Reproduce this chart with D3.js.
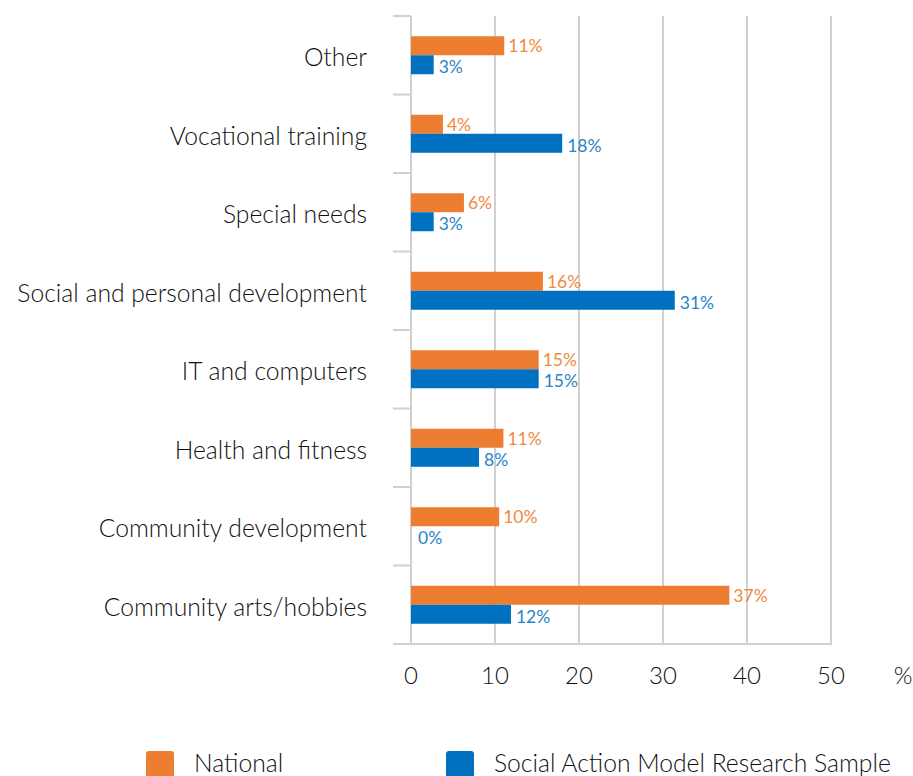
<!DOCTYPE html>
<html lang="en">
<head>
  <meta charset="UTF-8" />
  <title>Learning categories</title>
  <style>
    body { margin: 0; background: #fff; }
    text { font-family: "Lato", "Open Sans", sans-serif; font-weight: 300; }
    text.val { font-weight: 400; }
  </style>
  <script src="https://d3js.org/d3.v7.min.js"></script>
</head>
<body>
  <script>
    const categories = ["Other", "Vocational training", "Special needs", "Social and personal development",
      "IT and computers", "Health and fitness", "Community development", "Community arts/hobbies"];
    const national = [11.1, 3.8, 6.3, 15.7, 15.2, 11, 10.5, 37.9];
    const sample = [2.7, 18, 2.7, 31.4, 15.2, 8.1, 0, 11.9];
    const nationalLabels = ["11%", "4%", "6%", "16%", "15%", "11%", "10%", "37%"];
    const sampleLabels = ["3%", "18%", "3%", "31%", "15%", "8%", "0%", "12%"];
    const xTicks = [0, 10, 20, 30, 40, 50];
    const seriesNames = ["National", "Social Action Model Research Sample"];

    const width = 913, height = 776;
    const plotLeft = 411, plotRight = 831, plotTop = 16, plotBottom = 644;
    const orange = "#ED7D31", blue = "#0070C0";
    const ink = "#111";

    const svg = d3.select("body").append("svg")
      .attr("width", width)
      .attr("height", height);

    const x = d3.scaleLinear().domain([0, 50]).range([plotLeft, plotRight]);
    const y = d3.scaleBand().domain(categories).range([plotTop, plotBottom]);
    const barH = 19;

    // vertical gridlines
    svg.selectAll(".grid")
      .data(xTicks.slice(1))
      .enter().append("line")
      .attr("x1", d => x(d)).attr("x2", d => x(d))
      .attr("y1", plotTop).attr("y2", plotBottom)
      .attr("stroke", "#d0d0d0").attr("stroke-width", 2);

    // category axis with ticks at band boundaries
    const bounds = categories.map(c => y(c)).concat([plotBottom]);
    svg.selectAll(".ytick")
      .data(bounds)
      .enter().append("line")
      .attr("x1", plotLeft - 18).attr("x2", plotLeft)
      .attr("y1", d => d).attr("y2", d => d)
      .attr("stroke", "#d0d0d0").attr("stroke-width", 2);
    svg.append("line")
      .attr("x1", plotLeft).attr("x2", plotLeft)
      .attr("y1", plotTop).attr("y2", plotBottom)
      .attr("stroke", "#d0d0d0").attr("stroke-width", 2);
    svg.append("line")
      .attr("x1", plotLeft).attr("x2", plotRight + 1)
      .attr("y1", plotBottom).attr("y2", plotBottom)
      .attr("stroke", "#d0d0d0").attr("stroke-width", 2);

    // category labels
    svg.selectAll(".cat")
      .data(categories)
      .enter().append("text")
      .attr("x", 367)
      .attr("y", d => y(d) + y.bandwidth() / 2 + 11)
      .attr("text-anchor", "end")
      .attr("font-size", 24.7)
      .attr("fill", ink)
      .text(d => d);

    // x tick labels
    svg.selectAll(".xt")
      .data(xTicks)
      .enter().append("text")
      .attr("x", d => x(d))
      .attr("y", 684)
      .attr("text-anchor", "middle")
      .attr("font-size", 24)
      .attr("fill", ink)
      .text(d => d);
    svg.append("text")
      .attr("x", 903).attr("y", 684)
      .attr("text-anchor", "middle")
      .attr("font-size", 24)
      .attr("fill", ink)
      .text("%");

    // bars
    const mid = c => y(c) + y.bandwidth() / 2;
    svg.selectAll(".nat")
      .data(categories)
      .enter().append("rect")
      .attr("x", plotLeft)
      .attr("y", c => mid(c) - barH)
      .attr("width", (c, i) => x(national[i]) - plotLeft)
      .attr("height", barH)
      .attr("fill", orange);
    svg.selectAll(".sam")
      .data(categories)
      .enter().append("rect")
      .attr("x", plotLeft)
      .attr("y", c => mid(c))
      .attr("width", (c, i) => x(sample[i]) - plotLeft)
      .attr("height", barH)
      .attr("fill", blue);

    // value labels
    svg.selectAll(".natl")
      .data(categories)
      .enter().append("text")
      .attr("class", "val")
      .attr("x", (c, i) => x(national[i]) + 4)
      .attr("y", c => mid(c) - 3)
      .attr("font-size", 17.5)
      .attr("fill", "#F08A3E")
      .text((c, i) => nationalLabels[i]);
    svg.selectAll(".saml")
      .data(categories)
      .enter().append("text")
      .attr("class", "val")
      .attr("x", (c, i) => x(sample[i]) + (sample[i] === 0 ? 7 : 5))
      .attr("y", c => mid(c) + 18)
      .attr("font-size", 17.5)
      .attr("fill", "#2A84C6")
      .text((c, i) => sampleLabels[i]);

    // legend
    const legendX = [146, 446];
    const legendColors = [orange, blue];
    seriesNames.forEach((name, i) => {
      svg.append("rect")
        .attr("x", legendX[i]).attr("y", 751)
        .attr("width", 28).attr("height", 34)
        .attr("rx", 3)
        .attr("fill", legendColors[i]);
      svg.append("text")
        .attr("x", legendX[i] + 48).attr("y", 772)
        .attr("font-size", 24.7)
        .attr("fill", ink)
        .text(name);
    });
  </script>
</body>
</html>
